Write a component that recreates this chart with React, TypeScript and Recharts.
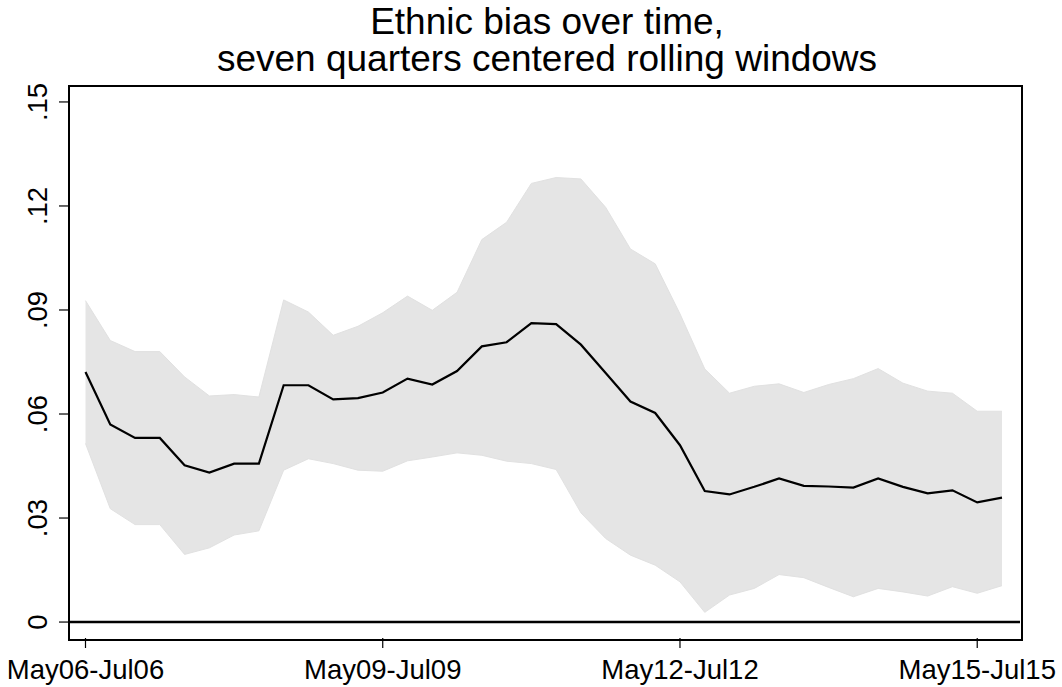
import React from "react";
import {
  ComposedChart,
  Area,
  Line,
  XAxis,
  YAxis,
  ReferenceLine,
} from "recharts";

// Seven-quarter centered rolling windows, labelled by their middle quarter
const windows: string[] = [
  "May06-Jul06", "Aug06-Oct06", "Nov06-Jan07", "Feb07-Apr07",
  "May07-Jul07", "Aug07-Oct07", "Nov07-Jan08", "Feb08-Apr08",
  "May08-Jul08", "Aug08-Oct08", "Nov08-Jan09", "Feb09-Apr09",
  "May09-Jul09", "Aug09-Oct09", "Nov09-Jan10", "Feb10-Apr10",
  "May10-Jul10", "Aug10-Oct10", "Nov10-Jan11", "Feb11-Apr11",
  "May11-Jul11", "Aug11-Oct11", "Nov11-Jan12", "Feb12-Apr12",
  "May12-Jul12", "Aug12-Oct12", "Nov12-Jan13", "Feb13-Apr13",
  "May13-Jul13", "Aug13-Oct13", "Nov13-Jan14", "Feb14-Apr14",
  "May14-Jul14", "Aug14-Oct14", "Nov14-Jan15", "Feb15-Apr15",
  "May15-Jul15", "Aug15-Oct15",
];

// Point estimate of the ethnic bias coefficient
const estimate: number[] = [
  0.0721, 0.057, 0.0531, 0.0531, 0.0452, 0.0431, 0.0457, 0.0457, 0.0683, 0.0683,
  0.0642, 0.0646, 0.0662, 0.0702, 0.0685, 0.0724, 0.0795, 0.0807, 0.0862, 0.0859,
  0.08, 0.0718, 0.0636, 0.0603, 0.051, 0.0378, 0.0368, 0.039, 0.0414, 0.0393,
  0.0391, 0.0388, 0.0414, 0.039, 0.0371, 0.038, 0.0345, 0.0359,
];

// Confidence band bounds
const upperBound: number[] = [
  0.0927, 0.0812, 0.078, 0.078, 0.0707, 0.0652, 0.0656, 0.0649, 0.0929, 0.0894,
  0.0827, 0.0853, 0.0892, 0.094, 0.0899, 0.0951, 0.1103, 0.1153, 0.1265, 0.1282,
  0.1278, 0.1196, 0.1076, 0.1033, 0.0889, 0.073, 0.066, 0.068, 0.0687, 0.0662,
  0.0685, 0.0702, 0.0731, 0.0689, 0.0666, 0.066, 0.0608, 0.0608,
];

const lowerBound: number[] = [
  0.0515, 0.0327, 0.0281, 0.0281, 0.0195, 0.0214, 0.0251, 0.0263, 0.0438, 0.0471,
  0.0457, 0.0438, 0.0435, 0.0465, 0.0476, 0.0488, 0.0481, 0.0464, 0.0457, 0.044,
  0.0315, 0.0241, 0.0193, 0.0164, 0.0116, 0.0028, 0.0078, 0.0097, 0.0137, 0.0128,
  0.01, 0.0073, 0.0097, 0.0087, 0.0075, 0.0102, 0.0083, 0.0105,
];

const xTickIndex: number[] = [0, 12, 24, 36];
const yTicks: number[] = [0, 0.03, 0.06, 0.09, 0.12, 0.15];

const data = windows.map((w, i) => ({
  i,
  window: w,
  estimate: estimate[i],
  band: [lowerBound[i], upperBound[i]] as [number, number],
}));

const FONT = "'Liberation Sans', Arial, Helvetica, sans-serif";
const X_DOMAIN: [number, number] = [-0.666, 37.727];
const Y_DOMAIN: [number, number] = [-0.0046, 0.1546];

// Chart geometry
const W = 1062;
const H = 687;
const M = { top: 86, right: 42, bottom: 0, left: 0 };
const Y_AXIS_W = 69;
const X_AXIS_H = 49;

const fmtY = (v: number) => (v === 0 ? "0" : v.toFixed(2).replace(/^0/, ""));

const YTick = (props: any) => {
  const { x, y, payload } = props;
  return (
    <text
      x={x}
      y={y}
      transform={`rotate(-90, ${x}, ${y})`}
      textAnchor="middle"
      fontFamily={FONT}
      fontSize={27.5}
      fill="#000"
    >
      {fmtY(payload.value)}
    </text>
  );
};

const XTick = (props: any) => {
  const { x, y, payload } = props;
  return (
    <text
      x={x}
      y={y}
      dy="0.71em"
      textAnchor="middle"
      fontFamily={FONT}
      fontSize={27.5}
      fill="#000"
    >
      {windows[payload.value]}
    </text>
  );
};

const tickLine = { stroke: "#000", strokeWidth: 1.2 };

const titleLine: React.CSSProperties = {
  position: "absolute",
  left: 0,
  width: 1094,
  textAlign: "center",
  fontFamily: FONT,
  fontSize: 37,
  lineHeight: "37px",
  color: "#000",
  whiteSpace: "nowrap",
};

export default function App() {
  const plotLeft = M.left + Y_AXIS_W;
  const plotTop = M.top;
  const plotW = W - M.right - plotLeft;
  const plotH = H - M.bottom - X_AXIS_H - plotTop;
  return (
    <div style={{ position: "absolute", left: 0, top: 0, width: W, height: H, background: "#fff" }}>
      <div style={{ ...titleLine, top: 3 }}>Ethnic bias over time,</div>
      <div style={{ ...titleLine, top: 40 }}>seven quarters centered rolling windows</div>
      <div style={{ position: "absolute", left: 0, top: 0 }}>
        <ComposedChart width={W} height={H} data={data} margin={M}>
          <XAxis
            dataKey="i"
            type="number"
            domain={X_DOMAIN}
            allowDataOverflow
            ticks={xTickIndex}
            interval={0}
            height={X_AXIS_H}
            tickSize={10}
            tickMargin={11}
            axisLine={false}
            tickLine={tickLine}
            tick={<XTick />}
          />
          <YAxis
            type="number"
            domain={Y_DOMAIN}
            allowDataOverflow
            ticks={yTicks}
            interval={0}
            width={Y_AXIS_W}
            tickSize={10}
            tickMargin={12}
            axisLine={false}
            tickLine={tickLine}
            tick={<YTick />}
          />
          <Area
            dataKey="band"
            type="linear"
            fill="#e5e5e5"
            fillOpacity={1}
            stroke="#e1e1e1"
            strokeWidth={1}
            isAnimationActive={false}
            dot={false}
            activeDot={false}
          />
          <ReferenceLine y={0} stroke="#000" strokeWidth={2.5} />
          <Line
            dataKey="estimate"
            type="linear"
            stroke="#000"
            strokeWidth={2.2}
            dot={false}
            activeDot={false}
            isAnimationActive={false}
          />
        </ComposedChart>
      </div>
      {/* plot region border */}
      <div
        style={{
          position: "absolute",
          left: plotLeft - 1,
          top: plotTop - 1,
          width: plotW,
          height: plotH,
          border: "2px solid #000",
          pointerEvents: "none",
        }}
      />
    </div>
  );
}
